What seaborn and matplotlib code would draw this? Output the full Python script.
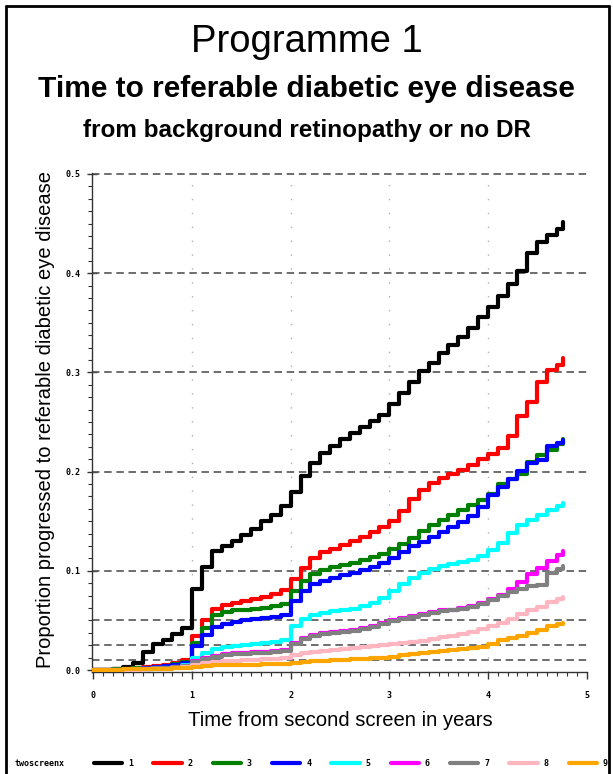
import numpy as np
import pandas as pd
import matplotlib
matplotlib.use("Agg")
import matplotlib.pyplot as plt
from matplotlib.lines import Line2D
from matplotlib.ticker import MultipleLocator
import seaborn as sns

# Kaplan-Meier style cumulative proportions
TIME = [0.0, 0.1, 0.2, 0.3, 0.4, 0.5, 0.6, 0.7, 0.8, 0.9,
        1.0, 1.1, 1.2, 1.3, 1.4, 1.5, 1.6, 1.7, 1.8, 1.9,
        2.0, 2.1, 2.2, 2.3, 2.4, 2.5, 2.6, 2.7, 2.8, 2.9,
        3.0, 3.1, 3.2, 3.3, 3.4, 3.5, 3.6, 3.7, 3.8, 3.9,
        4.0, 4.1, 4.2, 4.3, 4.4, 4.5, 4.6, 4.7, 4.76]

g1 = [0.0, 0.0, 0.001, 0.003, 0.007, 0.018, 0.026, 0.030, 0.036, 0.042,
      0.082, 0.104, 0.120, 0.125, 0.130, 0.136, 0.142, 0.150, 0.156, 0.165,
      0.179, 0.196, 0.209, 0.219, 0.226, 0.233, 0.239, 0.245, 0.251, 0.257,
      0.268, 0.279, 0.290, 0.301, 0.309, 0.320, 0.328, 0.336, 0.345, 0.356,
      0.366, 0.377, 0.389, 0.402, 0.420, 0.431, 0.438, 0.445, 0.452]
g2 = [0.0, 0.0, 0.001, 0.001, 0.002, 0.003, 0.004, 0.005, 0.007, 0.010,
      0.034, 0.050, 0.062, 0.066, 0.068, 0.070, 0.072, 0.074, 0.077, 0.081,
      0.092, 0.103, 0.113, 0.119, 0.122, 0.126, 0.130, 0.134, 0.139, 0.144,
      0.150, 0.160, 0.172, 0.181, 0.189, 0.194, 0.198, 0.202, 0.207, 0.213,
      0.218, 0.224, 0.236, 0.256, 0.270, 0.290, 0.302, 0.307, 0.315]
g3 = [0.0, 0.0, 0.001, 0.001, 0.002, 0.002, 0.003, 0.004, 0.006, 0.008,
      0.027, 0.042, 0.055, 0.058, 0.060, 0.061, 0.062, 0.063, 0.065, 0.067,
      0.080, 0.090, 0.097, 0.101, 0.104, 0.106, 0.108, 0.111, 0.114, 0.117,
      0.122, 0.127, 0.133, 0.140, 0.146, 0.151, 0.156, 0.161, 0.166, 0.171,
      0.177, 0.188, 0.193, 0.198, 0.210, 0.217, 0.222, 0.228, 0.233]
g4 = [0.0, 0.0, 0.0, 0.001, 0.001, 0.002, 0.003, 0.004, 0.005, 0.007,
      0.024, 0.035, 0.043, 0.046, 0.048, 0.050, 0.051, 0.052, 0.053, 0.055,
      0.070, 0.080, 0.087, 0.090, 0.093, 0.096, 0.098, 0.101, 0.104, 0.108,
      0.113, 0.119, 0.125, 0.129, 0.134, 0.139, 0.144, 0.149, 0.155, 0.164,
      0.176, 0.184, 0.193, 0.201, 0.209, 0.212, 0.226, 0.229, 0.232]
g5 = [0.0, 0.0, 0.0, 0.0, 0.001, 0.001, 0.002, 0.002, 0.003, 0.005,
      0.012, 0.017, 0.021, 0.023, 0.024, 0.025, 0.026, 0.027, 0.028, 0.030,
      0.044, 0.051, 0.055, 0.057, 0.059, 0.060, 0.062, 0.065, 0.068, 0.073,
      0.080, 0.087, 0.093, 0.098, 0.102, 0.105, 0.107, 0.109, 0.111, 0.115,
      0.121, 0.128, 0.138, 0.146, 0.151, 0.156, 0.161, 0.165, 0.168]
g6 = [0.0, 0.0, 0.0, 0.0, 0.001, 0.001, 0.002, 0.002, 0.003, 0.004,
      0.009, 0.012, 0.014, 0.016, 0.017, 0.017, 0.018, 0.018, 0.019, 0.020,
      0.027, 0.032, 0.035, 0.037, 0.038, 0.039, 0.040, 0.042, 0.044, 0.047,
      0.050, 0.052, 0.054, 0.056, 0.058, 0.060, 0.061, 0.063, 0.065, 0.068,
      0.072, 0.076, 0.082, 0.089, 0.097, 0.103, 0.110, 0.116, 0.120]
g7 = [0.0, 0.0, 0.0, 0.0, 0.001, 0.001, 0.002, 0.002, 0.003, 0.004,
      0.008, 0.011, 0.013, 0.015, 0.016, 0.016, 0.017, 0.017, 0.018, 0.019,
      0.026, 0.031, 0.034, 0.036, 0.037, 0.038, 0.039, 0.041, 0.043, 0.046,
      0.049, 0.051, 0.053, 0.055, 0.057, 0.059, 0.060, 0.062, 0.064, 0.067,
      0.071, 0.075, 0.079, 0.082, 0.085, 0.086, 0.098, 0.102, 0.105]
g8 = [0.0, 0.0, 0.0, 0.0, 0.0, 0.001, 0.001, 0.001, 0.002, 0.003,
      0.005, 0.007, 0.008, 0.009, 0.009, 0.010, 0.010, 0.011, 0.011, 0.012,
      0.015, 0.017, 0.018, 0.019, 0.020, 0.021, 0.022, 0.023, 0.024, 0.025,
      0.026, 0.027, 0.028, 0.029, 0.031, 0.033, 0.034, 0.036, 0.038, 0.041,
      0.044, 0.047, 0.051, 0.056, 0.060, 0.064, 0.069, 0.072, 0.074]
g9 = [0.0, 0.0, 0.0, 0.001, 0.001, 0.001, 0.001, 0.001, 0.002, 0.002,
      0.003, 0.004, 0.005, 0.005, 0.005, 0.005, 0.005, 0.006, 0.006, 0.006,
      0.007, 0.008, 0.009, 0.009, 0.010, 0.010, 0.011, 0.011, 0.012, 0.012,
      0.013, 0.015, 0.016, 0.017, 0.018, 0.019, 0.020, 0.021, 0.022, 0.023,
      0.026, 0.030, 0.032, 0.034, 0.037, 0.040, 0.044, 0.046, 0.047]

GROUPS = ['1', '2', '3', '4', '5', '6', '7', '8', '9']
COLORS = ['#000000', '#ff0000', '#008000', '#0000ff', '#00ffff',
          '#ff00ff', '#808080', '#ffb6c1', '#ffa500']
REF_LINES = [0.01, 0.025, 0.05, 0.1, 0.2, 0.3, 0.4, 0.5]
YTICKS = [0.0, 0.1, 0.2, 0.3, 0.4, 0.5]
XTICKS = [0, 1, 2, 3, 4, 5]

series = [g1, g2, g3, g4, g5, g6, g7, g8, g9]
df = pd.concat([pd.DataFrame({'time': TIME, 'prop': s, 'twoscreenx': g})
                for g, s in zip(GROUPS, series)], ignore_index=True)

sns.set_theme(style="white")
plt.rcParams['font.family'] = ['Liberation Sans', 'DejaVu Sans']
plt.rcParams['text.color'] = 'black'
plt.rcParams['xtick.color'] = '#333333'
plt.rcParams['ytick.color'] = '#333333'
plt.rcParams['xtick.labelcolor'] = 'black'
plt.rcParams['ytick.labelcolor'] = 'black'

W, H = 613, 774
fig = plt.figure(figsize=(W / 100, H / 100), dpi=100)
ax = fig.add_axes([92 / W, 1 - 672 / H, (587 - 92) / W, (672 - 173) / H])

# reference lines first so curves sit on top
for y in REF_LINES:
    ax.axhline(y, color='#555555', lw=1.2, ls=(0, (4.5, 2.8)), zorder=1)
for x in [1, 2, 3, 4]:
    ax.axvline(x, color='#b0b0b0', lw=1.0, ls=(0, (1, 9)), zorder=1)

palette = dict(zip(GROUPS, COLORS))
sns.lineplot(data=df, x='time', y='prop', hue='twoscreenx', hue_order=GROUPS,
             palette=palette, estimator=None, drawstyle='steps-post',
             linewidth=3, legend=False, ax=ax, zorder=3)

ax.set_xlim(-0.015, 5.005)
ax.set_ylim(-0.002, 0.501)
ax.set_xticks(XTICKS)
ax.set_yticks(YTICKS)
ax.set_xticklabels([str(t) for t in XTICKS])
ax.set_yticklabels([f'{t:.1f}' for t in YTICKS])
ax.xaxis.set_minor_locator(MultipleLocator(0.1))
ax.yaxis.set_minor_locator(MultipleLocator(0.0125))
ax.tick_params(axis='x', which='major', direction='out', length=5, width=1,
               labelsize=6, pad=9)
ax.tick_params(axis='x', which='minor', direction='out', length=3, width=0.8)
ax.tick_params(axis='y', which='major', direction='inout', length=7, width=1,
               labelsize=6, pad=5)
ax.tick_params(axis='y', which='minor', direction='out', length=3, width=0.8)
ax.tick_params(axis='both', which='both', bottom=True, left=True)
for lab in ax.get_xticklabels() + ax.get_yticklabels():
    lab.set_family('DejaVu Sans Mono')
    lab.set_fontweight('bold')
for side in ['top', 'right']:
    ax.spines[side].set_visible(False)
for side in ['left', 'bottom']:
    ax.spines[side].set_color('#333333')
    ax.spines[side].set_linewidth(1)
ax.set_xlabel('')
ax.set_ylabel('')

# titles and axis labels
fig.text(0.5, 1 - 42 / H, 'Programme 1', ha='center', va='center', fontsize=27.5)
fig.text(0.5, 1 - 89 / H, 'Time to referable diabetic eye disease',
         ha='center', va='center', fontsize=21.5, fontweight='bold')
fig.text(0.5, 1 - 131 / H, 'from background retinopathy or no DR',
         ha='center', va='center', fontsize=17.5, fontweight='bold')
fig.text(46 / W, 1 - 419 / H, 'Proportion progressed to referable diabetic eye disease',
         rotation=90, ha='center', va='center', fontsize=14.5)
fig.text(340 / W, 1 - 720 / H, 'Time from second screen in years',
         ha='center', va='center', fontsize=14.6)

# legend row at the bottom
fig.text(15 / W, 1 - 763 / H, 'twoscreenx', ha='left', va='center', fontsize=6,
         family='DejaVu Sans Mono', fontweight='bold')
handles = [Line2D([], [], color=c, lw=3) for c in COLORS]
fig.legend(handles, GROUPS, loc='center left', bbox_to_anchor=(94 / W, 1 - 763 / H),
           ncol=9, frameon=False, handlelength=3.4, handletextpad=0.7,
           columnspacing=2.42, borderpad=0, borderaxespad=0,
           prop={'family': 'DejaVu Sans Mono', 'weight': 'bold', 'size': 6})

# page frame
frame_kw = dict(color='black', lw=2, transform=fig.transFigure)
fig.add_artist(Line2D([6 / W, 6 / W], [0, 1 - 6 / H], **frame_kw))
fig.add_artist(Line2D([6 / W, 609 / W], [1 - 6 / H, 1 - 6 / H], **frame_kw))
fig.add_artist(Line2D([609 / W, 609 / W], [0, 1 - 6 / H], **frame_kw))

fig.savefig('out.png', dpi=100)
